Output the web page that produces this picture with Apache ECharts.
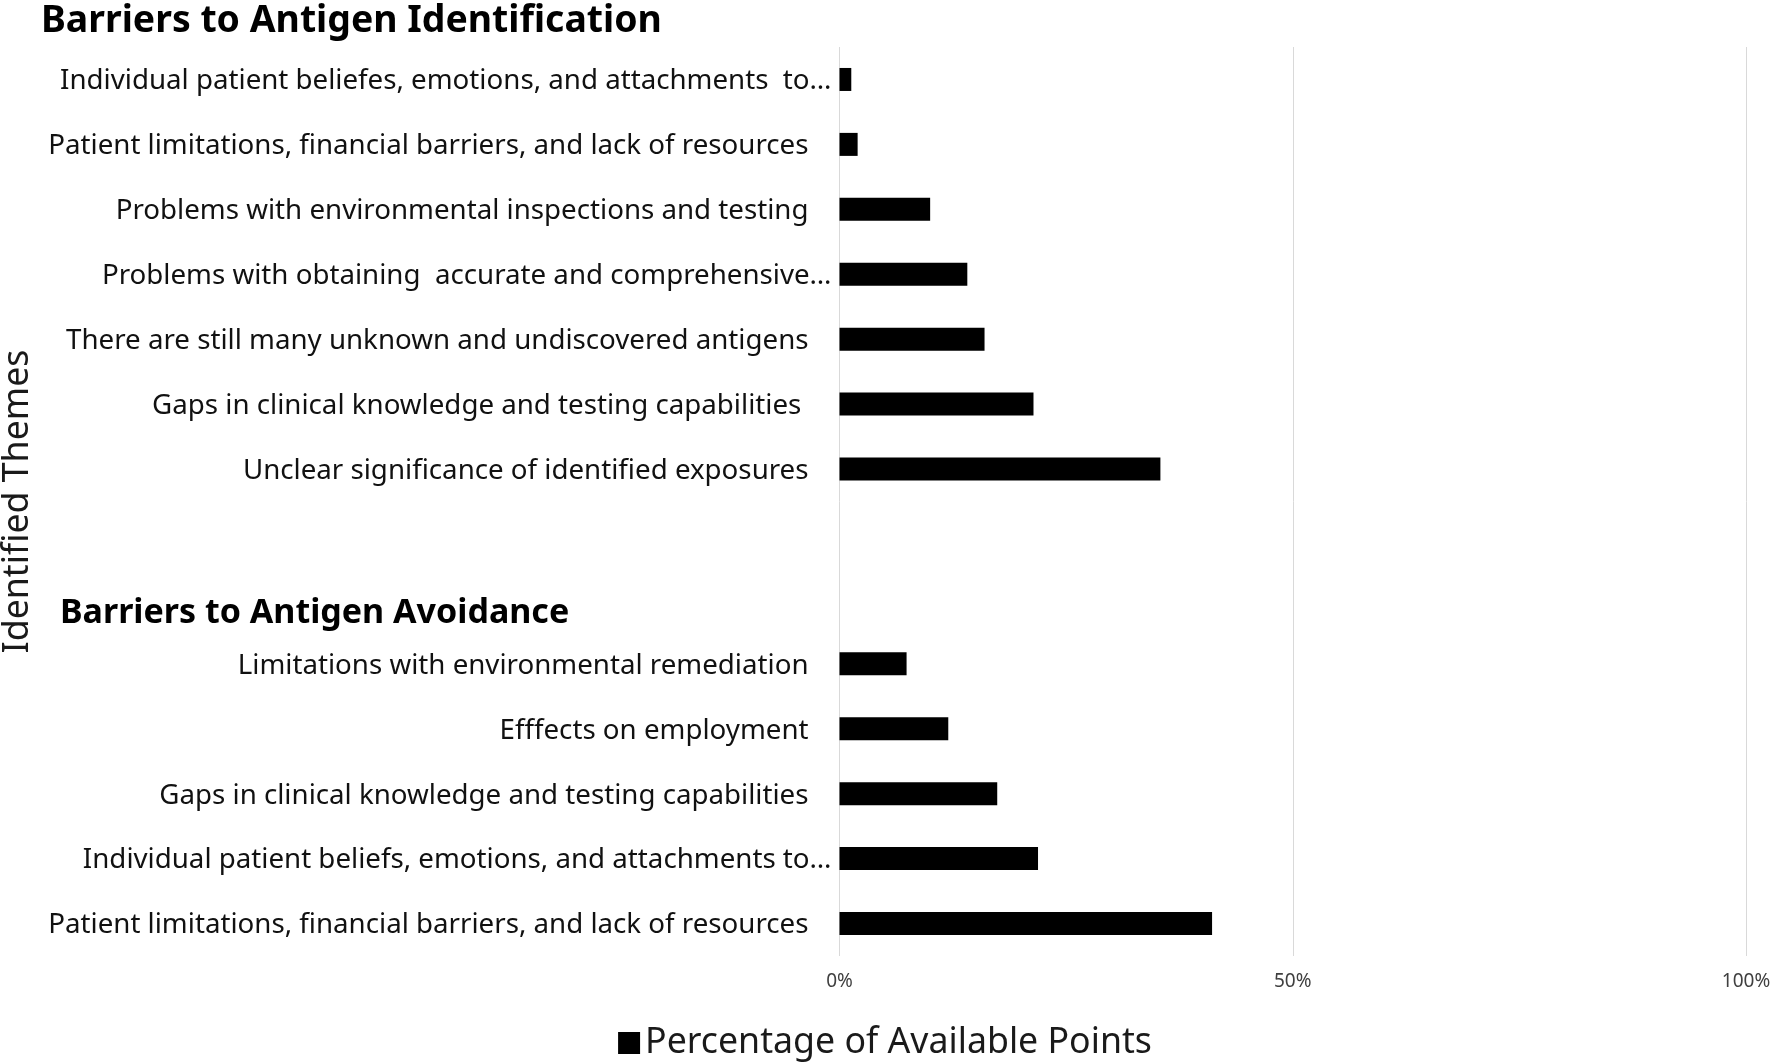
<!DOCTYPE html>
<html>
<head>
<meta charset="utf-8">
<script src="https://cdn.jsdelivr.net/npm/echarts@6/dist/echarts.min.js"></script>
<style>
html,body{margin:0;padding:0;background:#fff;}
#chart{width:1770px;height:1063px;}
</style>
</head>
<body>
<div id="chart"></div>
<script>
// ---- data ----
const headingIdentification = "Barriers to Antigen Identification";
const headingAvoidance = "Barriers to Antigen Avoidance";
const identificationThemes = [
  "Individual patient beliefes, emotions, and attachments  to…",
  "Patient limitations, financial barriers, and lack of resources",
  "Problems with environmental inspections and testing",
  "Problems with obtaining  accurate and comprehensive…",
  "There are still many unknown and undiscovered antigens",
  "Gaps in clinical knowledge and testing capabilities ",
  "Unclear significance of identified exposures"
];
const identificationValues = [1.3, 2.0, 10.0, 14.1, 16.0, 21.4, 35.4];
const avoidanceThemes = [
  "Limitations with environmental remediation",
  "Efffects on employment",
  "Gaps in clinical knowledge and testing capabilities",
  "Individual patient beliefs, emotions, and attachments to…",
  "Patient limitations, financial barriers, and lack of resources"
];
const avoidanceValues = [7.4, 12.0, 17.4, 21.9, 41.1];
const xTickLabels = ["0%", "50%", "100%"];
const seriesName = "Percentage of Available Points";
const axisTitle = "Identified Themes";

// gap categories between the two groups
const gapCount = 2;
const categories = identificationThemes.concat(new Array(gapCount).fill(""), avoidanceThemes);
const values = identificationValues.concat(new Array(gapCount).fill(null), avoidanceValues);

const chart = echarts.init(document.getElementById('chart'));
const FONT = "Noto Sans";
const LABEL_FS = 27.7;
chart.setOption({
  animation: false,
  backgroundColor: '#ffffff',
  title: [
    {text: headingIdentification, left: 41, top: 2.5, padding: 0,
     textStyle: {fontFamily: FONT, fontWeight: 'bold', fontSize: 37.4, color: '#000'}},
    {text: headingAvoidance, left: 60, top: 596, padding: 0,
     textStyle: {fontFamily: FONT, fontWeight: 'bold', fontSize: 34, color: '#000'}}
  ],
  legend: {
    bottom: 2, left: 'center', padding: 0,
    itemWidth: 22, itemHeight: 22, itemGap: 10,
    icon: 'rect',
    textStyle: {fontFamily: FONT, fontSize: 35.7, color: '#1a1a1a'},
    data: [seriesName]
  },
  grid: {left: 839.5, right: 24, top: 47, bottom: 107, containLabel: false, outerBoundsMode: 'none'},
  xAxis: {
    type: 'value', min: 0, max: 100, interval: 50,
    axisLine: {show: false}, axisTick: {show: false},
    splitLine: {show: true, lineStyle: {color: '#d9d9d9', width: 1}},
    axisLabel: {
      fontFamily: FONT, fontSize: 19, color: '#404040', margin: 16.5,
      formatter: function (v) { return xTickLabels[Math.round(v / 50)]; }
    }
  },
  yAxis: {
    type: 'category', inverse: true, data: categories,
    axisLine: {show: false}, axisTick: {show: false},
    name: axisTitle, nameLocation: 'middle', nameGap: 804,
    nameTextStyle: {fontFamily: FONT, fontSize: 35.7, color: '#1a1a1a'},
    axisLabel: {
      interval: 0, margin: 8,
      fontFamily: FONT, fontSize: LABEL_FS, color: '#111',
      formatter: function (v) {
        if (!v) return '';
        return v.indexOf('…') >= 0 ? '{t|' + v + '}' : '{n|' + v + '}';
      },
      rich: {
        t: {fontFamily: FONT, fontSize: LABEL_FS, color: '#111', padding: [4, 0, 0, 0]},
        n: {fontFamily: FONT, fontSize: LABEL_FS, color: '#111', padding: [4, 23, 0, 0]}
      }
    }
  },
  series: [{
    name: seriesName, type: 'bar', data: values,
    barWidth: 23,
    itemStyle: {color: '#000000'}
  }]
});
</script>
</body>
</html>
